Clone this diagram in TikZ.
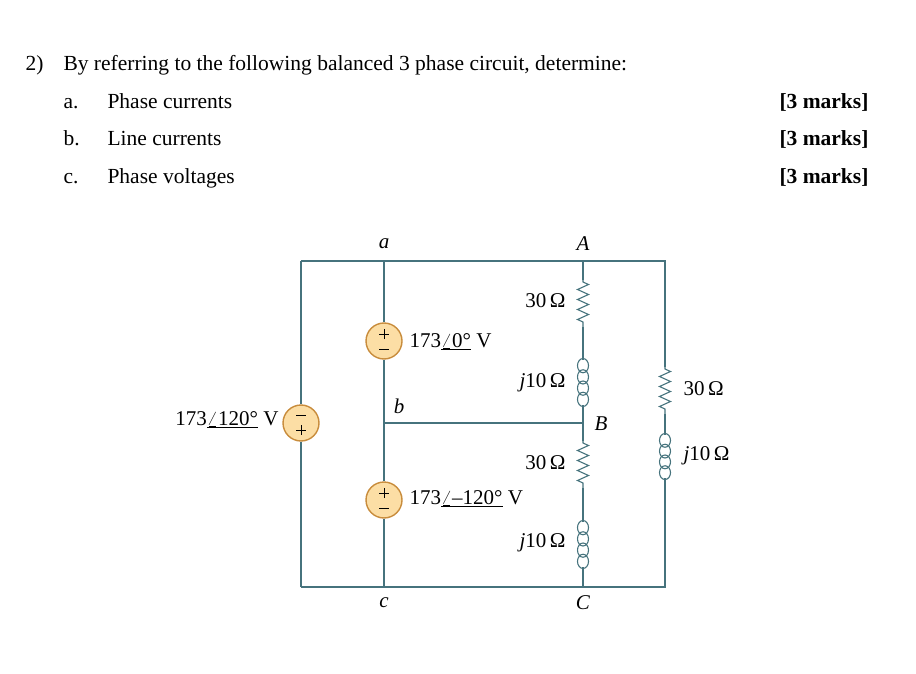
\documentclass[tikz,border=0pt]{standalone}
\usepackage{fontspec}
\setmainfont{Liberation Serif}
\usetikzlibrary{decorations.pathmorphing}
\definecolor{wire}{RGB}{70,115,125}
\definecolor{srcfill}{RGB}{252,222,165}
\definecolor{srcdraw}{RGB}{200,140,60}
\newcommand\mycoil[3]{% x, y start, y end
  \pgfmathsetmacro\hh{(#3-#2)/4}
  \foreach \i in {0,1,2,3}{\draw[w] (#1,{#2+(\i+0.5)*\hh}) ellipse (5.5 and {\hh/2+1.5});}}
\begin{document}
\begin{tikzpicture}[x=1pt,y=-1pt,
  w/.style={draw=wire,line width=1.1pt},
  src/.style={circle,draw=srcdraw,fill=srcfill,line width=1.4pt,minimum size=36pt,inner sep=0pt},
  res/.style={w,decorate,decoration={zigzag,segment length=10pt,amplitude=5.5pt,pre length=2pt,post length=2pt}},
  lab/.style={font=\fontsize{21}{24}\selectfont},
  q/.style={font=\fontsize{21.5}{25}\selectfont,anchor=base west}]
\useasboundingbox (0,0) rectangle (916,674);
% question text
\node[q] at (22,71) {2)};
\node[q] at (60,71) {By referring to the following balanced 3 phase circuit, determine:};
\node[q] at (60,109) {a.};
\node[q] at (104,109) {Phase currents};
\node[q] at (60,146) {b.};
\node[q] at (104,146) {Line currents};
\node[q] at (60,184) {c.};
\node[q] at (104,184) {Phase voltages};
\foreach \yy in {109,146,184}{\node[q,anchor=base east] at (872,\yy) {\textbf{[3 marks]}};}
% coordinates
\coordinate (TL) at (301,261); \coordinate (TR) at (665,261);
\coordinate (BL) at (301,587); \coordinate (BR) at (665,587);
\coordinate (a) at (384,261); \coordinate (c) at (384,587);
\coordinate (A) at (583,261); \coordinate (C) at (583,587);
\coordinate (b) at (384,423); \coordinate (B) at (583,423);
\node[src] (s1) at (384,341) {};
\node[src] (s2) at (384,500) {};
\node[src] (s3) at (301,423) {};
% wires
\draw[w] (TL) -- (TR) -- (665,367);
\draw[w] (BL) -- (BR) -- (665,478);
\draw[w] (TL) -- (s3.north); \draw[w] (s3.south) -- (BL);
\draw[w] (a) -- (s1.north); \draw[w] (s1.south) -- (s2.north); \draw[w] (s2.south) -- (c);
\draw[w] (b) -- (B);
% A-B branch
\draw[w] (A) -- (583,280); \draw[res] (583,280) -- (583,327);
\draw[w] (583,327) -- (583,360); \mycoil{583}{360}{405} \draw[w] (583,405) -- (583,441);
\draw[res] (583,441) -- (583,488); \draw[w] (583,488) -- (583,522);
\mycoil{583}{522}{567} \draw[w] (583,567) -- (C);
% right branch
\draw[res] (665,367) -- (665,414); \draw[w] (665,414) -- (665,435);
\mycoil{665}{435}{478}
% source signs
\foreach \s in {s1,s2}{
 \draw[line width=1pt] ([xshift=-5pt,yshift=7pt]\s.center) -- ([xshift=5pt,yshift=7pt]\s.center);
 \draw[line width=1pt] ([xshift=0pt,yshift=2pt]\s.center) -- ([xshift=0pt,yshift=12pt]\s.center);
 \draw[line width=1pt] ([xshift=-5pt,yshift=-8pt]\s.center) -- ([xshift=5pt,yshift=-8pt]\s.center);}
\draw[line width=1pt] ([xshift=-5pt,yshift=8pt]s3.center) -- ([xshift=5pt,yshift=8pt]s3.center);
\draw[line width=1pt] ([xshift=-5pt,yshift=-7pt]s3.center) -- ([xshift=5pt,yshift=-7pt]s3.center);
\draw[line width=1pt] ([yshift=-2pt]s3.center) -- ([yshift=-12pt]s3.center);
% labels
\node[lab] at (384,244) {\textit{a}};
\node[lab] at (583,244) {\textit{A}};
\node[lab] at (384,603) {\textit{c}};
\node[lab] at (583,603) {\textit{C}};
\node[lab] at (399,406) {\textit{b}};
\node[lab] at (601,424) {\textit{B}};
\node[lab,anchor=east] at (569,301) {30\,Ω};
\node[lab,anchor=east] at (569,383) {\textit{j}10\,Ω};
\node[lab,anchor=east] at (569,463) {30\,Ω};
\node[lab,anchor=east] at (569,543) {\textit{j}10\,Ω};
\node[lab,anchor=west] at (680,389) {30\,Ω};
\node[lab,anchor=west] at (680,456) {\textit{j}10\,Ω};
\node[lab,anchor=west] at (406,342) {173\underline{$\angle$0°} V};
\node[lab,anchor=west] at (406,499) {173\underline{$\angle$–120°} V};
\node[lab,anchor=east] at (282,420) {173\underline{$\angle$120°} V};
\end{tikzpicture}
\end{document}
